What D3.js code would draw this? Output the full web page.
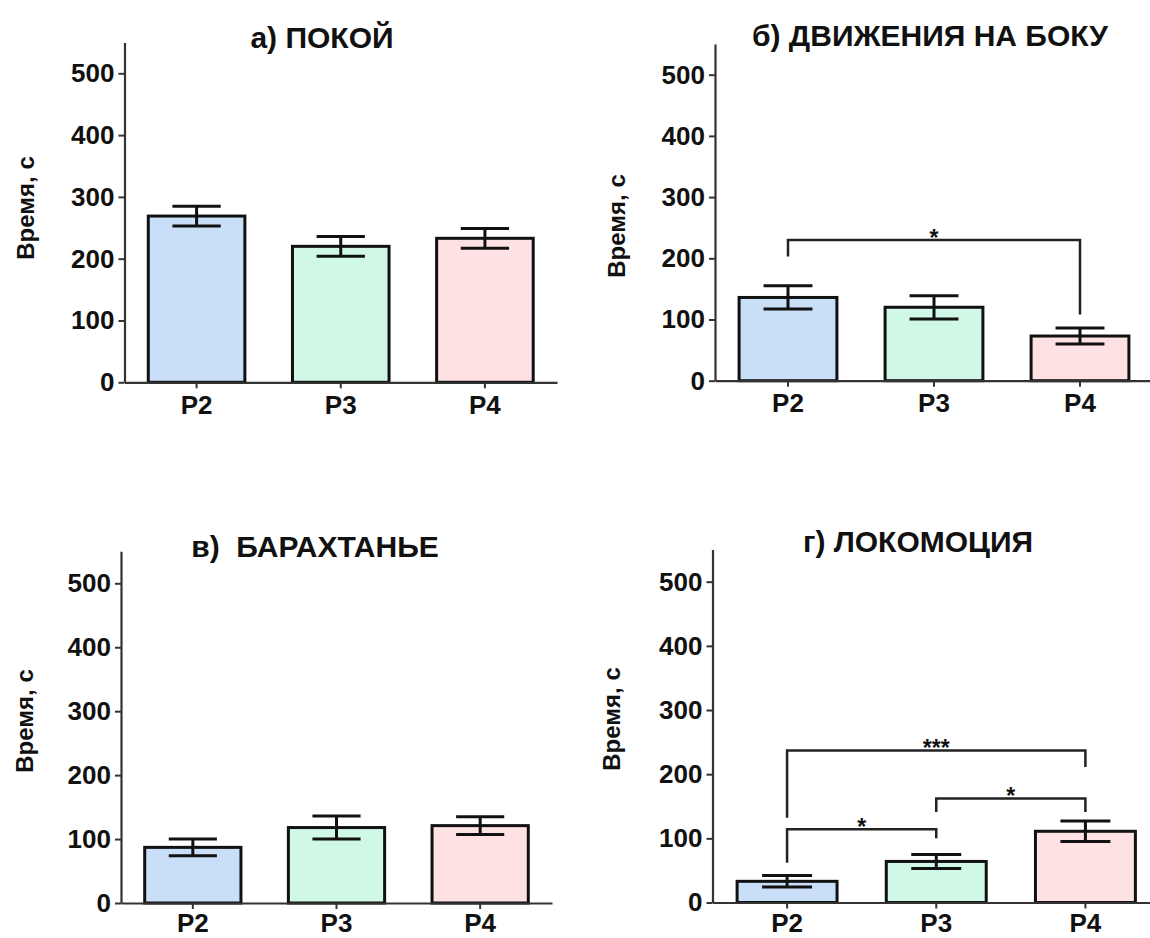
<!DOCTYPE html>
<html>
<head>
<meta charset="utf-8">
<script src="https://cdn.jsdelivr.net/npm/d3@7"></script>
<style>
  body { margin: 0; background: #fff; }
  svg text { font-family: "Liberation Sans", Arial, sans-serif; font-weight: bold; fill: #111; }
</style>
</head>
<body>
<svg id="chart" width="1150" height="938"></svg>
<script>
// ---------- data ----------
var groups = ["P2", "P3", "P4"];
var yTicks = [0, 100, 200, 300, 400, 500];
var colors = ["#c9def7", "#cff8e7", "#fde1e3"];

var titles = ["а) ПОКОЙ", "б) ДВИЖЕНИЯ НА БОКУ", "в)\u00a0\u00a0БАРАХТАНЬЕ", "г) ЛОКОМОЦИЯ"];
var yLabel = "Время, с";

// mean and SEM per group, seconds
var restMean = [269, 220, 233];
var restSem = [16, 16, 16];
var sideMean = [136, 120, 73];
var sideSem = [19, 19, 13];
var struggleMean = [87, 118, 121];
var struggleSem = [13, 18, 14];
var locoMean = [33, 64, 111];
var locoSem = [9, 11, 16];

// significance brackets: bar y, left/right leg ends (in seconds)
var sideBrackets = [
  {from: "P2", to: "P4", y: 230, left: 203, right: 108, label: "*"}
];
var locoBrackets = [
  {from: "P2", to: "P3", y: 114, left: 62, right: 100, label: "*"},
  {from: "P3", to: "P4", y: 162, left: 141, right: 141, label: "*"},
  {from: "P2", to: "P4", y: 237, left: 132, right: 211, label: "***"}
];

// ---------- layout (pixels) ----------
var panels = [
  {mean: restMean, sem: restSem, brackets: [], title: titles[0], pad: 7,
   x0: 124.5, x1: 557, y0: 382.3, y500: 73.3, tx: 322, ty: 37, lx: 25, ly: 208},
  {mean: sideMean, sem: sideSem, brackets: sideBrackets, title: titles[1], pad: 7,
   x0: 715, x1: 1153, y0: 380.7, y500: 74.7, tx: 930, ty: 35, lx: 616, ly: 226},
  {mean: struggleMean, sem: struggleSem, brackets: [], title: titles[2], pad: 5,
   x0: 121, x1: 552, y0: 903, y500: 583.3, tx: 315, ty: 546, lx: 24, ly: 721},
  {mean: locoMean, sem: locoSem, brackets: locoBrackets, title: titles[3], pad: 5,
   x0: 712.5, x1: 1160, y0: 902.5, y500: 581.7, tx: 918, ty: 541, lx: 611, ly: 719}
];

var svg = d3.select("#chart");

panels.forEach(function(p) {
  var g = svg.append("g");

  var x = d3.scaleBand()
    .domain(groups)
    .range([p.x0, p.x1])
    .paddingInner(0.33)
    .paddingOuter(0.165);

  var pxPer = (p.y0 - p.y500) / 500;
  var y = d3.scaleLinear()
    .domain([0, 550])
    .range([p.y0, p.y0 - 550 * pxPer]);

  var rows = groups.map(function(k, i) {
    return {key: k, mean: p.mean[i], sem: p.sem[i], color: colors[i]};
  });

  // bars
  g.selectAll("rect.bar")
    .data(rows)
    .enter()
    .append("rect")
      .attr("class", "bar")
      .attr("x", function(d) { return x(d.key); })
      .attr("y", function(d) { return y(d.mean); })
      .attr("width", x.bandwidth())
      .attr("height", function(d) { return y(0) - y(d.mean); })
      .attr("fill", function(d) { return d.color; })
      .attr("stroke", "#111")
      .attr("stroke-width", 3);

  // error bars
  var cap = x.bandwidth() / 4;
  var eb = g.selectAll("g.err")
    .data(rows)
    .enter()
    .append("g")
      .attr("class", "err")
      .attr("stroke", "#111")
      .attr("stroke-width", 3);
  eb.append("line")
    .attr("x1", function(d) { return x(d.key) + x.bandwidth() / 2; })
    .attr("x2", function(d) { return x(d.key) + x.bandwidth() / 2; })
    .attr("y1", function(d) { return y(d.mean - d.sem); })
    .attr("y2", function(d) { return y(d.mean + d.sem); });
  [1, -1].forEach(function(s) {
    eb.append("line")
      .attr("x1", function(d) { return x(d.key) + x.bandwidth() / 2 - cap; })
      .attr("x2", function(d) { return x(d.key) + x.bandwidth() / 2 + cap; })
      .attr("y1", function(d) { return y(d.mean + s * d.sem); })
      .attr("y2", function(d) { return y(d.mean + s * d.sem); });
  });

  // axes
  var yAxis = g.append("g")
    .attr("transform", "translate(" + p.x0 + ",0)")
    .call(d3.axisLeft(y).tickValues(yTicks).tickSize(6).tickSizeOuter(0).tickPadding(4));
  var xAxis = g.append("g")
    .attr("transform", "translate(0," + p.y0 + ")")
    .call(d3.axisBottom(x).tickSize(6).tickSizeOuter(0).tickPadding(p.pad));
  [yAxis, xAxis].forEach(function(a) {
    a.select(".domain").attr("stroke", "#333").attr("stroke-width", 2.2);
    a.selectAll(".tick line").attr("stroke", "#333").attr("stroke-width", 2);
    a.selectAll(".tick text")
      .attr("fill", "#111")
      .style("font-size", "26px")
      .style("font-family", "'Liberation Sans', Arial, sans-serif")
      .style("font-weight", "bold");
  });

  // significance brackets
  var cx = function(k) { return x(k) + x.bandwidth() / 2; };
  var br = g.selectAll("g.br")
    .data(p.brackets)
    .enter()
    .append("g")
      .attr("class", "br");
  br.append("path")
    .attr("fill", "none")
    .attr("stroke", "#222")
    .attr("stroke-width", 2.5)
    .attr("d", function(d) {
      return "M" + cx(d.from) + "," + y(d.left) +
             "V" + y(d.y) + "H" + cx(d.to) + "V" + y(d.right);
    });
  br.append("text")
    .attr("x", function(d) { return (cx(d.from) + cx(d.to)) / 2; })
    .attr("y", function(d) { return y(d.y); })
    .attr("dy", "0.25em")
    .attr("text-anchor", "middle")
    .style("font-size", "23px")
    .text(function(d) { return d.label; });

  // title
  g.append("text")
    .attr("x", p.tx)
    .attr("y", p.ty)
    .attr("dy", "0.36em")
    .attr("text-anchor", "middle")
    .style("font-size", "30px")
    .text(p.title);

  // y label
  g.append("text")
    .attr("transform", "translate(" + p.lx + "," + p.ly + ") rotate(-90)")
    .attr("dy", "0.36em")
    .attr("text-anchor", "middle")
    .style("font-size", "24px")
    .text(yLabel);
});
</script>
</body>
</html>
